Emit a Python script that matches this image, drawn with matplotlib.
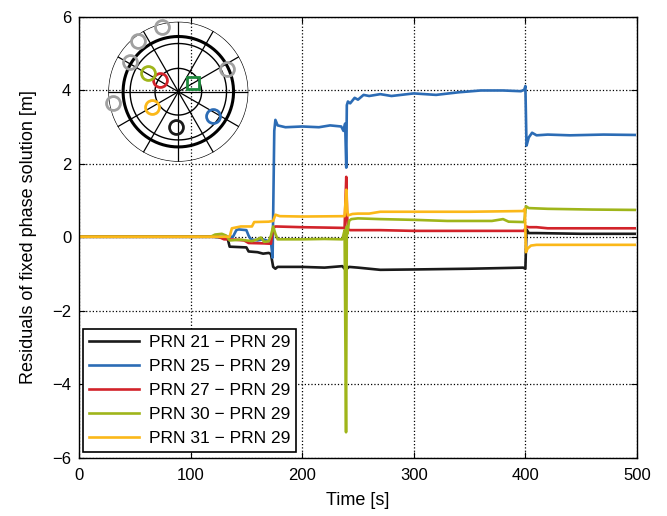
import numpy as np
import matplotlib.pyplot as plt

plt.rcParams['font.family'] = ['Liberation Sans', 'DejaVu Sans']

# residual series as (time [s], value [m]) knots
t21 = [0, 120, 128, 133, 135, 150, 152, 160, 165, 170, 172, 174, 176, 178, 200, 220, 236, 238, 240,
       242, 250, 270, 300, 350, 398, 400, 401, 403, 410, 450, 498]
v21 = [0.02, 0.02, 0.0, 0.0, -0.25, -0.27, -0.38, -0.40, -0.44, -0.42, -0.45, -0.80, -0.85, -0.80,
       -0.80, -0.82, -0.78, -0.85, -0.85, -0.80, -0.82, -0.88, -0.87, -0.85, -0.82, -0.85, 0.22, 0.12,
       0.12, 0.10, 0.10]

t25 = [0, 130, 138, 141, 143, 150, 152, 154, 160, 165, 170, 172, 173.5, 175, 176, 178, 185, 200, 215,
       225, 235, 237, 238.5, 239.5, 240, 241, 243, 247, 250, 255, 260, 270, 280, 300, 320, 340, 360,
       380, 396, 399, 400, 401, 401.5, 403, 406, 410, 420, 440, 470, 498]
v25 = [0.02, 0.02, 0.02, 0.2, 0.22, 0.2, 0.05, -0.05, -0.08, -0.05, -0.1, -0.12, -0.55, 2.9, 3.2, 3.05,
       3.0, 3.02, 3.0, 3.05, 3.02, 2.9, 3.1, 1.9, 3.6, 3.7, 3.65, 3.8, 3.75, 3.88, 3.85, 3.9, 3.85, 3.92,
       3.88, 3.95, 4.0, 4.0, 3.98, 4.02, 4.12, 2.5, 2.55, 2.72, 2.85, 2.78, 2.8, 2.78, 2.8, 2.79]

t27 = [0, 125, 130, 133, 140, 148, 152, 165, 172, 174, 176, 200, 220, 238, 239.5, 240.3, 241, 243, 250,
       270, 300, 350, 399, 400.5, 403, 410, 420, 498]
v27 = [0.02, 0.02, -0.05, -0.05, -0.06, -0.08, -0.15, -0.16, -0.17, 0.25, 0.3, 0.28, 0.27, 0.26, 1.65,
       0.6, 0.22, 0.2, 0.2, 0.2, 0.18, 0.18, 0.18, 0.3, 0.28, 0.28, 0.25, 0.25]

t30 = [0, 118, 122, 128, 132, 135, 145, 150, 155, 160, 163, 166, 170, 172, 174, 176, 178, 180, 200,
       220, 236, 238, 239.3, 240, 240.5, 242, 244, 250, 270, 300, 330, 350, 370, 380, 385, 399, 400.5,
       403, 420, 460, 498]
v30 = [0.02, 0.02, 0.08, 0.1, 0.05, -0.08, -0.06, -0.08, -0.1, -0.05, 0.0, -0.12, -0.1, 0.05, 0.3, 0.1,
       -0.05, -0.05, -0.05, -0.04, -0.05, 0.2, -5.3, 0.3, 0.1, 0.45, 0.5, 0.52, 0.5, 0.48, 0.45, 0.45,
       0.45, 0.5, 0.43, 0.42, 0.85, 0.8, 0.78, 0.76, 0.75]

t31 = [0, 135, 137, 145, 155, 157, 170, 174, 176, 180, 200, 238, 239.5, 240.3, 241, 245, 250, 260, 270,
       300, 350, 398, 399.5, 400.5, 402, 405, 410, 450, 498]
v31 = [0.02, 0.02, 0.25, 0.3, 0.3, 0.42, 0.43, 0.45, 0.62, 0.58, 0.57, 0.58, 1.3, 0.75, 0.6, 0.64, 0.65,
       0.65, 0.7, 0.7, 0.7, 0.72, 0.78, -0.4, -0.3, -0.22, -0.2, -0.2, -0.2]

labels = ["PRN 21 \u2212 PRN 29", "PRN 25 \u2212 PRN 29", "PRN 27 \u2212 PRN 29",
          "PRN 30 \u2212 PRN 29", "PRN 31 \u2212 PRN 29"]
colors = ["#1a1a1a", "#2c6cb5", "#d2232a", "#9fb51a", "#fbb819"]

# skyplot: azimuth [deg], zenith distance [deg]
sky_gray_az = [345.7, 321.9, 301.8, 259.9, 65.2]
sky_gray_r = [86.3, 83.3, 73.1, 84.9, 68.6]
sky_az = [183.7, 124.8, 302.6, 302.3, 239.6]   # PRN 21, 25, 27, 30, 31
sky_r = [45.9, 54.8, 27.9, 45.7, 39.6]
ref_az, ref_r = 59.0, 22.5                      # PRN 29 (reference)

fig = plt.figure(figsize=(6.67, 5.16), dpi=100)
ax = fig.add_axes([0.1184, 0.1124, 0.8366, 0.8547])

series = [(t21, v21), (t25, v25), (t27, v27), (t30, v30), (t31, v31)]
for (t, v), c, lab in zip(series, colors, labels):
    ax.plot(t, v, color=c, linewidth=1.9, label=lab)

ax.set_xlim(0, 500)
ax.set_ylim(-6, 6)
ax.set_xticks([0, 100, 200, 300, 400, 500])
ax.set_yticks([-6, -4, -2, 0, 2, 4, 6])
ax.grid(True, linestyle=':', color='black', linewidth=0.9)
ax.tick_params(direction='in', top=True, right=True, labelsize=12, length=4)
ax.tick_params(axis='x', pad=7)
ax.tick_params(axis='y', pad=5.5)
for s in ax.spines.values():
    s.set_linewidth(1.0)
ax.set_xlabel("Time [s]", fontsize=13, labelpad=7)
ax.set_ylabel("Residuals of fixed phase solution [m]", fontsize=13, labelpad=11)

leg = ax.legend(loc='lower left', fontsize=12.5, handlelength=2.9, handletextpad=0.55,
                fancybox=False, edgecolor='black', framealpha=1, borderpad=0.35,
                labelspacing=0.5, borderaxespad=0.0, bbox_to_anchor=(0.007, 0.014))
leg.get_frame().set_linewidth(1.2)

# skyplot inset
sk = fig.add_axes([0.1624, 0.6866, 0.2099, 0.2713], projection='polar')
sk.set_theta_zero_location('N')
sk.set_theta_direction(-1)
sk.set_rlim(0, 90)
sk.axis('off')
th = np.linspace(0, 2 * np.pi, 361)
for r, lw in [(90, 0.9), (71, 2.2), (62, 1.0), (30, 1.0)]:
    sk.plot(th, np.full_like(th, r), color='black', linewidth=lw)
for a in range(0, 360, 30):
    sk.plot([np.radians(a)] * 2, [0, 90], color='black', linewidth=0.9)
sk.plot(np.radians(sky_gray_az), sky_gray_r, 'o', ms=10, mfc='none', mec='#a0a0a0', mew=2,
        clip_on=False)
for az, r, c in zip(sky_az, sky_r, colors):
    sk.plot(np.radians(az), r, 'o', ms=10, mfc='none', mec=c, mew=2, clip_on=False)
sk.plot(np.radians(ref_az), ref_r, 's', ms=9, mfc='none', mec='#1d8a3c', mew=2, clip_on=False)

fig.savefig("out.png", dpi=100)
